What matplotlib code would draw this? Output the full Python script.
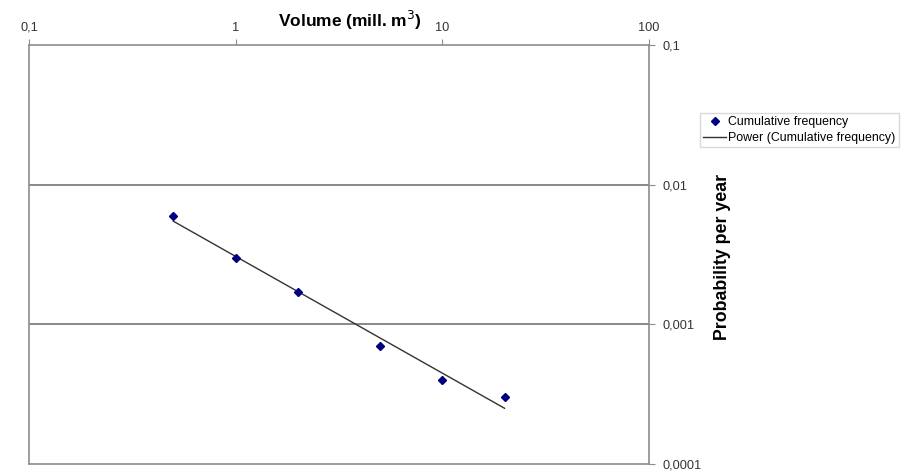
import numpy as np
import matplotlib.pyplot as plt
from matplotlib.ticker import FixedLocator, FixedFormatter, NullLocator

plt.rcParams['font.family'] = ['Liberation Sans', 'DejaVu Sans']

# volume in mill. m3 and annual cumulative frequency
volume = [0.5, 1, 2, 5, 10, 20]
frequency = [0.006, 0.003, 0.0017, 0.0007, 0.0004, 0.0003]

x_ticks = [0.1, 1, 10, 100]
x_labels = ['0,1', '1', '10', '100']
y_ticks = [0.0001, 0.001, 0.01, 0.1]
y_labels = ['0,0001', '0,001', '0,01', '0,1']

# power trend line, fitted in log space
b, a = np.polyfit(np.log10(volume), np.log10(frequency), 1)
xs = np.array([min(volume), max(volume)])
ys = 10 ** a * xs ** b

fig = plt.figure(figsize=(9.03, 4.72), dpi=100)
ax = fig.add_axes([0.0321, 0.017, 0.6866, 0.8877])
ax.set_xscale('log')
ax.set_yscale('log')
ax.set_xlim(0.1, 100)
ax.set_ylim(0.0001, 0.1)

for yv in [0.01, 0.001]:
    ax.axhline(yv, color='#7f7f7f', lw=1.3, zorder=1)

ax.plot(volume, frequency, linestyle='none', marker='D', ms=4.5,
        color='#000080', label='Cumulative frequency', zorder=3)
ax.plot(xs, ys, color='#333333', lw=1.0, label='Power (Cumulative frequency)', zorder=2)

for s in ax.spines.values():
    s.set_color('#8c8c8c')
    s.set_linewidth(1.2)

ax.xaxis.tick_top()
ax.yaxis.tick_right()
ax.xaxis.set_major_locator(FixedLocator(x_ticks))
ax.xaxis.set_major_formatter(FixedFormatter(x_labels))
ax.yaxis.set_major_locator(FixedLocator(y_ticks))
ax.yaxis.set_major_formatter(FixedFormatter(y_labels))
ax.xaxis.set_minor_locator(NullLocator())
ax.yaxis.set_minor_locator(NullLocator())
ax.tick_params(axis='both', length=4, color='#8c8c8c', labelsize=9.2,
               labelcolor='#333333', direction='out')
ax.tick_params(axis='x', pad=4)
ax.tick_params(axis='y', pad=6)

fig.text(0.388, 0.956, 'Volume (mill. m$^3$)', fontsize=12.5, fontweight='bold',
         ha='center', va='center')
fig.text(0.7996, 0.4555, 'Probability per year', fontsize=12.8, fontweight='bold',
         rotation=90, ha='center', va='center')

fig.legend(loc='upper left', bbox_to_anchor=(0.775, 0.761), fontsize=8.9,
           frameon=True, fancybox=False, edgecolor='#d0d0d0', borderpad=0.25,
           handlelength=1.9, handletextpad=0.15, labelspacing=0.35, borderaxespad=0)

fig.savefig('out.png', dpi=100)
